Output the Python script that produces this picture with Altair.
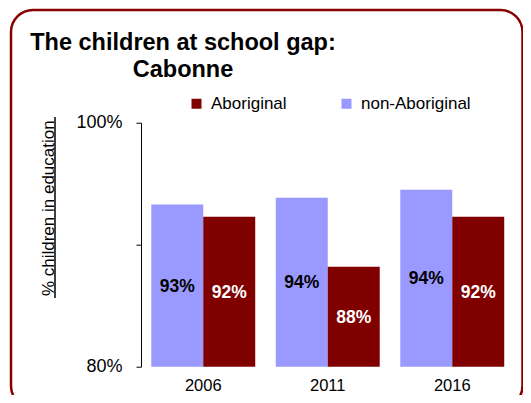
import altair as alt
import pandas as pd

years = ["2006", "2011", "2016"]
groups = ["non-Aboriginal", "Aboriginal"]
non_aboriginal = [93.3, 93.85, 94.5]
aboriginal = [92.3, 88.2, 92.3]
title_lines = ["The children at school gap:", "Cabonne"]
y_title = "% children in education"

rows = []
for i, yr in enumerate(years):
    for g, vals in (("non-Aboriginal", non_aboriginal), ("Aboriginal", aboriginal)):
        v = vals[i]
        rows.append({"year": yr, "group": g, "value": v,
                     "mid": (v + 80) / 2, "label": f"{round(v)}%"})
df = pd.DataFrame(rows)
one = pd.DataFrame({"k": [0]})

FONT = "Liberation Sans"

x_enc = alt.X("year:N", sort=years,
              scale=alt.Scale(paddingInner=0.165, paddingOuter=0.0825),
              axis=alt.Axis(title=None, labelAngle=0, domain=False, ticks=False,
                            labelFontSize=16.5, labelPadding=24, labelBaseline="alphabetic",
                            labelColor="black"))
xoff = alt.XOffset("group:N", sort=groups, scale=alt.Scale(paddingInner=0, paddingOuter=0))
y_axis = alt.Axis(values=[80, 90, 100],
                  labelExpr="datum.value == 90 ? '' : datum.value + '%'",
                  grid=False, tickSize=5, labelFontSize=18, labelPadding=14,
                  domainColor="black", tickColor="black", labelColor="black",
                  title=y_title, titleFontSize=17, titleFontWeight="normal",
                  titleAngle=-90, titleX=-88, titleY=85, titleAlign="center",
                  titleBaseline="alphabetic", titleColor="black")
y_scale = alt.Scale(domain=[80, 100], nice=False, zero=False)

bars = alt.Chart(df).mark_bar().encode(
    x=x_enc, xOffset=xoff,
    y=alt.Y("value:Q", scale=y_scale, axis=y_axis),
    y2=alt.datum(80),
    color=alt.Color("group:N",
                    scale=alt.Scale(domain=["Aboriginal", "non-Aboriginal"],
                                    range=["#800000", "#9999FF"]),
                    legend=alt.Legend(title=None, orient="none", legendX=47, legendY=-27.7,
                                      direction="horizontal", symbolType="square",
                                      symbolSize=100, symbolStrokeWidth=0,
                                      labelFontSize=17, labelOffset=6, columnPadding=51,
                                      padding=0, labelColor="black")),
)

labels = alt.Chart(df).mark_text(fontWeight="bold", fontSize=17.5, baseline="middle", dy=1).encode(
    x=x_enc, xOffset=xoff,
    y=alt.Y("mid:Q", scale=y_scale),
    text="label:N",
    color=alt.condition(alt.datum.group == "Aboriginal", alt.value("white"), alt.value("black")),
)

frame = alt.Chart(one).mark_rect(filled=False, stroke="#880000", strokeWidth=2.5,
                                 cornerRadius=22).encode(
    x=alt.value(-130), x2=alt.value(381.5), y=alt.value(-112.7), y2=alt.value(285))

title = alt.Chart(one).mark_text(text=title_lines, fontSize=23.5, fontWeight="bold",
                                 align="center", baseline="alphabetic", lineHeight=27,
                                 color="black").encode(
    x=alt.value(42), y=alt.value(-72.7))

underline = alt.Chart(one).mark_rule(color="black", strokeWidth=1.5).encode(
    x=alt.value(-86), y=alt.value(-5.7), y2=alt.value(175.3))

chart = alt.layer(frame, title, underline, bars, labels).properties(
    width=373.5, height=244,
    autosize=alt.AutoSizeParams(type="none"),
    padding={"left": 133, "top": 114.7, "right": 8.5, "bottom": 28.3},
    background="white",
).configure(font=FONT).configure_view(strokeWidth=0)

chart.save("out.html", embed_options={"renderer": "svg", "actions": False})
